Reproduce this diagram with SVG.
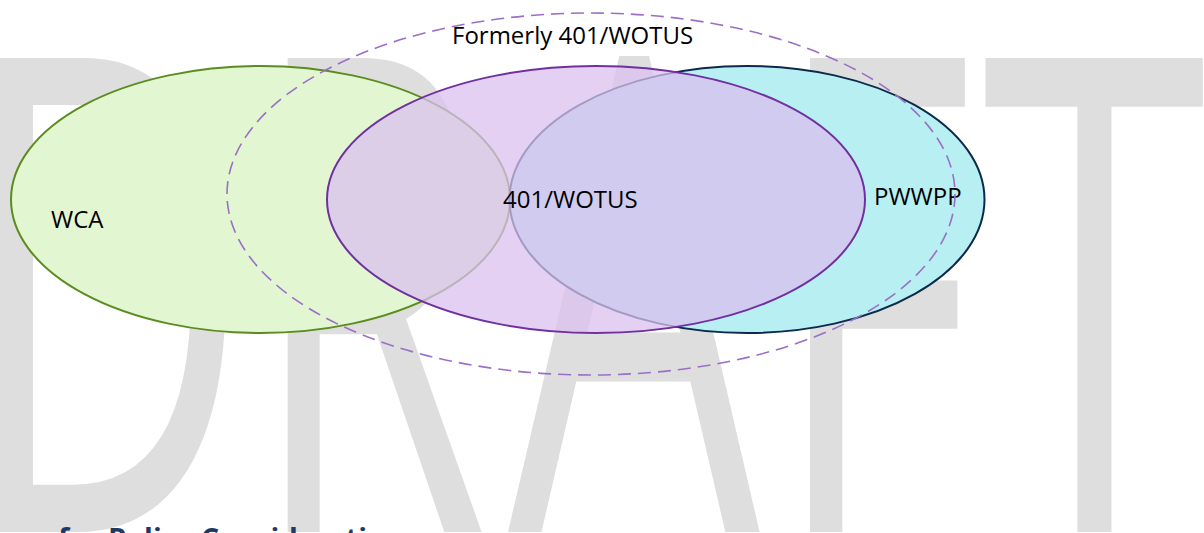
<svg xmlns="http://www.w3.org/2000/svg" width="1204" height="533" viewBox="0 0 1204 533">
  <style>
    .wm { font-family: "Open Sans", "Liberation Sans", sans-serif; font-size: 664px; fill: #DEDEDE; }
    .lbl { font-family: "Open Sans", "Liberation Sans", sans-serif; font-size: 24px; fill: #000000; }
    .foot { font-family: "Open Sans", "Liberation Sans", sans-serif; font-size: 29px; font-weight: bold; fill: #1F3864; }
  </style>
  <rect x="0" y="0" width="1204" height="533" fill="#FFFFFF"/>
  <g id="watermark">
    <text class="wm" x="-39" y="532" textLength="289" lengthAdjust="spacingAndGlyphs">D</text>
    <text class="wm" x="250" y="532" textLength="238" lengthAdjust="spacingAndGlyphs">R</text>
    <text class="wm" x="508" y="532" textLength="252" lengthAdjust="spacingAndGlyphs">A</text>
    <text class="wm" x="772" y="532" textLength="201" lengthAdjust="spacingAndGlyphs">F</text>
    <text class="wm" x="982" y="532" textLength="225" lengthAdjust="spacingAndGlyphs">T</text>
  </g>
  <g id="wca">
    <ellipse cx="260.5" cy="199.5" rx="249.5" ry="133.5" fill="#E2F6D2" stroke="#5B8C1E" stroke-width="2"/>
    <text class="lbl" x="51" y="228">WCA</text>
  </g>
  <g id="pwwpp">
    <ellipse cx="747" cy="199.5" rx="237.5" ry="133.5" fill="#B7EFF2" stroke="#0C2A4A" stroke-width="2"/>
    <text class="lbl" x="874" y="205">PWWPP</text>
  </g>
  <g id="wotus401">
    <ellipse cx="596" cy="199.5" rx="269" ry="133.5" fill="#DAC0EE" fill-opacity="0.75" stroke="#7030A0" stroke-width="2"/>
    <text class="lbl" x="503" y="208">401/WOTUS</text>
  </g>
  <g id="formerly">
    <ellipse cx="591" cy="194" rx="364" ry="181" fill="none" stroke="#9B6FC6" stroke-width="1.6" stroke-dasharray="13 7"/>
    <text class="lbl" x="452" y="44">Formerly 401/WOTUS</text>
  </g>
  <g id="connectors"/>
  <text class="foot" x="58" y="549">for Policy Consideration</text>
</svg>
